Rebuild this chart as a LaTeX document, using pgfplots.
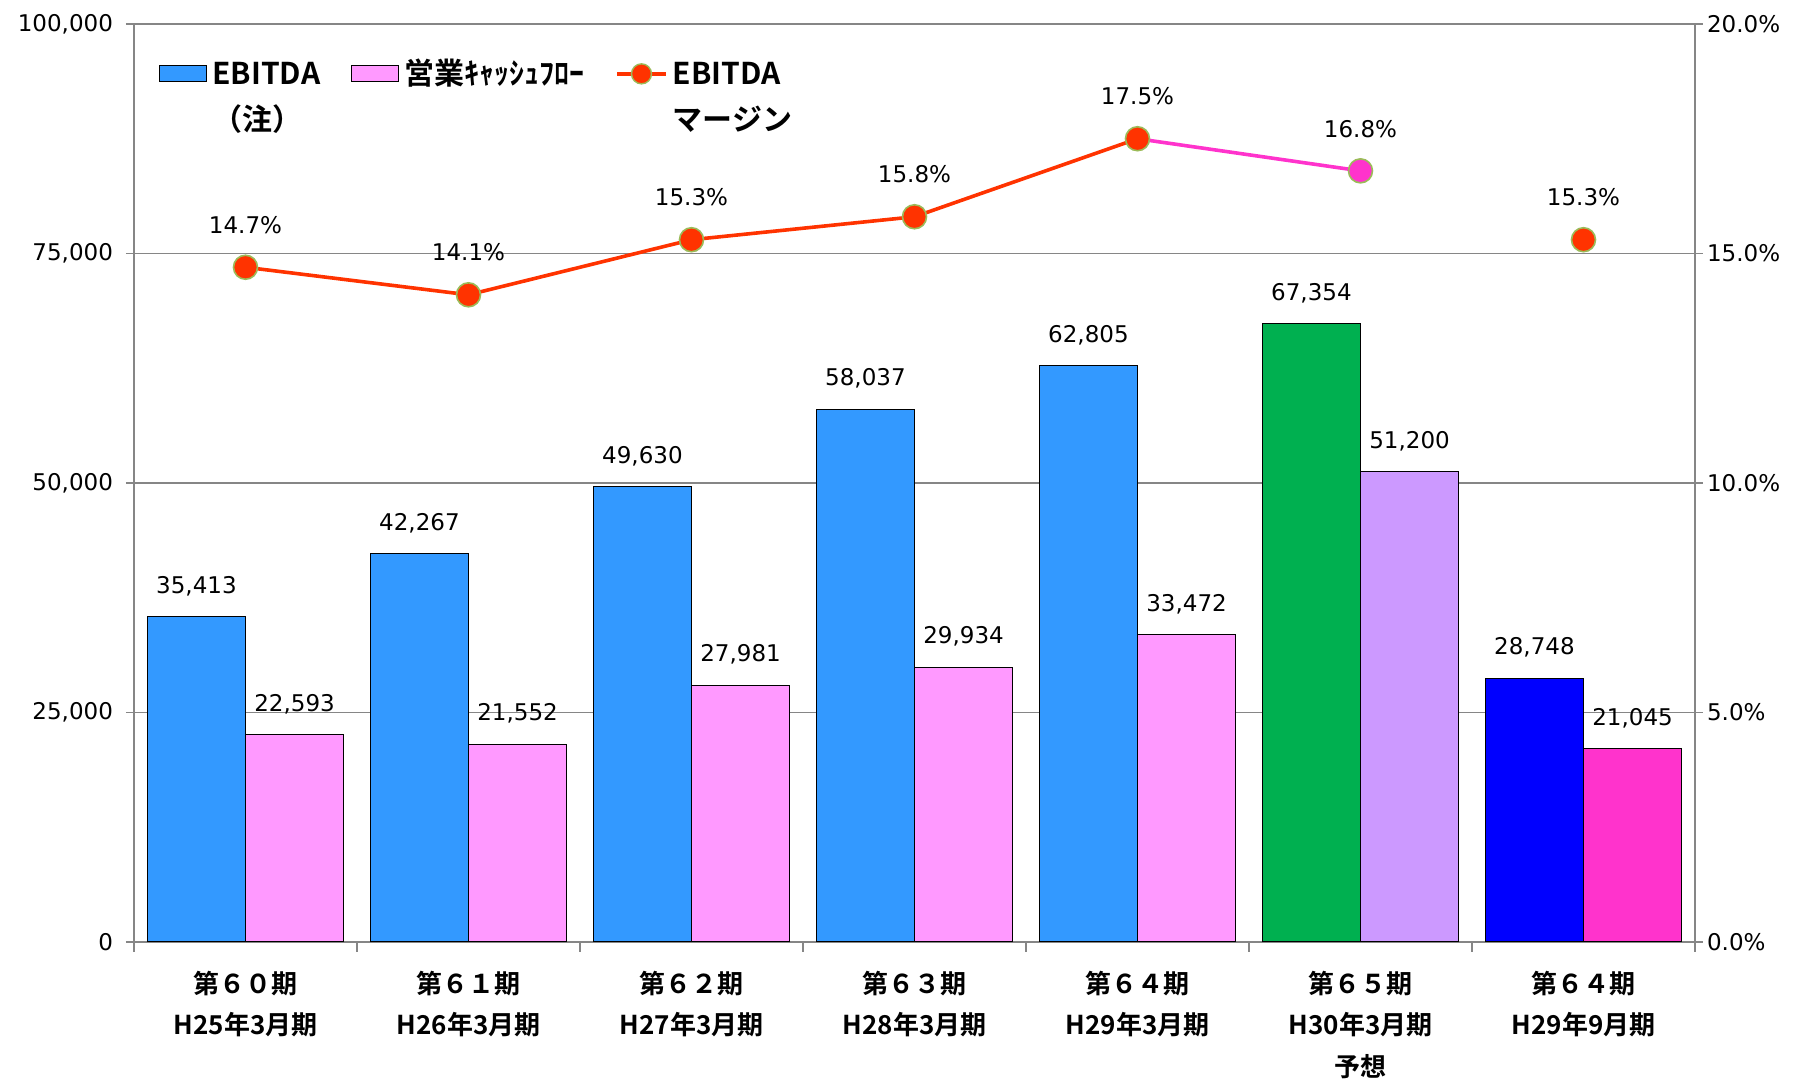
\documentclass[border=0pt]{standalone}
\usepackage{pgfplots}
\pgfplotsset{compat=1.18}
\usepackage{fontspec}
\setmainfont{DejaVu Sans}
\newfontfamily\jpfont{Noto Sans CJK JP Bold}
\definecolor{ebBlue}{HTML}{3399FF}
\definecolor{cfPink}{HTML}{FF99FF}
\definecolor{fcGreen}{HTML}{00B050}
\definecolor{fcLav}{HTML}{CC99FF}
\definecolor{hBlue}{HTML}{0000FF}
\definecolor{hMag}{HTML}{FF33CC}
\definecolor{lineRed}{HTML}{FF3300}
\definecolor{markEdge}{HTML}{9BBB59}
\definecolor{gridgray}{HTML}{868686}
\tikzset{numfont/.style={font=\fontsize{11.5}{13}\selectfont}}
\pgfplotsset{
  barlegend/.style={legend image code/.code={\draw[##1] (0pt,1.5pt) rectangle (23.5pt,9.5pt);}},
  linelegend/.style={legend image code/.code={\draw[mark repeat=2,mark phase=2,##1] plot coordinates {(0pt,5.5pt) (12.25pt,5.5pt) (24.5pt,5.5pt)};}},
  lefbar/.style={ybar, bar width=0.44, bar shift=-0.22, draw=black, line width=0.5pt,
    every node near coord/.append style={xshift=-24.53pt}},
  rigbar/.style={ybar, bar width=0.44, bar shift=0.22, draw=black, line width=0.5pt,
    every node near coord/.append style={xshift=24.53pt}},
}
\begin{document}
\begin{tikzpicture}
\useasboundingbox (-67pt,-68.5pt) rectangle (839pt,471pt);
\begin{axis}[
  scale only axis, width=780.5pt, height=459pt, at={(0pt,0pt)}, anchor=south west,
  xmin=-0.5, xmax=6.5, ymin=0, ymax=100000,
  axis x line*=bottom, axis y line*=left,
  axis line style={gridgray, line width=0.6pt},
  xtick={0,...,6},
  xticklabels={{第６０期\\H25年3月期},{第６１期\\H26年3月期},{第６２期\\H27年3月期},{第６３期\\H28年3月期},{第６４期\\H29年3月期},{第６５期\\H30年3月期\\予想},{第６４期\\H29年9月期}},
  minor xtick={-0.5,0.5,...,6.5},
  major x tick style={draw=none},
  minor x tick style={gridgray, line width=0.6pt},
  minor tick length=5pt,
  tick align=outside,
  major tick length=4pt,
  ytick={0,25000,50000,75000,100000},
  yticklabels={0,{25,000},{50,000},{75,000},{100,000}},
  ytick style={gridgray, line width=0.6pt},
  ymajorgrids, major grid style={gridgray, line width=0.6pt},
  yticklabel style={numfont, xshift=-3pt},
  xticklabel style={font=\jpfont\fontsize{13}{20.8}\selectfont, align=center, yshift=-7pt},
  nodes near coords, point meta=explicit symbolic,
  every node near coord/.append style={numfont, text=black, yshift=6.7pt},
]
\addplot[lefbar, fill=ebBlue] coordinates {
  (0,35413) [35,413]
  (1,42267) [42,267]
  (2,49630) [49,630]
  (3,58037) [58,037]
  (4,62805) [62,805]
};
\addplot[rigbar, fill=cfPink] coordinates {
  (0,22593) [22,593]
  (1,21552) [21,552]
  (2,27981) [27,981]
  (3,29934) [29,934]
  (4,33472) [33,472]
};
\addplot[lefbar, fill=fcGreen] coordinates {(5,67354) [67,354]};
\addplot[rigbar, fill=fcLav] coordinates {(5,51200) [51,200]};
\addplot[lefbar, fill=hBlue] coordinates {(6,28748) [28,748]};
\addplot[rigbar, fill=hMag] coordinates {(6,21045) [21,045]};
\end{axis}
\begin{axis}[
  scale only axis, width=780.5pt, height=459pt, at={(0pt,0pt)}, anchor=south west,
  xmin=-0.5, xmax=6.5, ymin=0, ymax=20,
  axis x line=none, axis y line*=right,
  axis line style={gridgray, line width=0.6pt},
  ytick={0,5,10,15,20},
  yticklabels={0.0\%,5.0\%,10.0\%,15.0\%,20.0\%},
  tick align=outside, major tick length=4pt,
  ytick style={gridgray, line width=0.6pt},
  yticklabel style={numfont, xshift=-1.5pt},
  legend columns=3,
  legend cell align=left,
  legend style={at={(0.016,0.962)}, anchor=north west, draw=none, fill=none, inner sep=0pt,
    cells={anchor=base west},
    nodes={inner xsep=2.5pt, inner ysep=0pt, font=\jpfont\fontsize{15}{23}\selectfont},
    /tikz/every even column/.append style={column sep=13pt}},
]
\addlegendimage{barlegend, fill=ebBlue, draw=black, line width=0.5pt}
\addlegendentry{\vtop{\hbox{EBITDA}\hbox{（注）}}}
\addlegendimage{barlegend, fill=cfPink, draw=black, line width=0.5pt}
\addlegendentry{営業ｷｬｯｼｭﾌﾛｰ}
\addlegendimage{linelegend, color=lineRed, line width=1.8pt, mark=*, mark size=5pt, mark options={fill=lineRed, draw=markEdge, line width=0.7pt}}
\addlegendentry{\vtop{\hbox{EBITDA}\hbox{マージン}}}
\addplot[forget plot, color=hMag, line width=1.8pt, no marks] coordinates {(4,17.5) (5,16.8)};
\addplot[forget plot, color=lineRed, line width=1.8pt, mark=*, mark size=6pt,
  mark options={fill=lineRed, draw=markEdge, line width=0.8pt},
  nodes near coords, point meta=explicit symbolic,
  every node near coord/.append style={numfont, text=black, yshift=13pt}] coordinates {
  (0,14.7) [14.7\%]
  (1,14.1) [14.1\%]
  (2,15.3) [15.3\%]
  (3,15.8) [15.8\%]
  (4,17.5) [17.5\%]
};
\addplot[forget plot, color=hMag, only marks, mark=*, mark size=6pt,
  mark options={fill=hMag, draw=markEdge, line width=0.8pt},
  nodes near coords, point meta=explicit symbolic,
  every node near coord/.append style={numfont, text=black, yshift=13pt}] coordinates {(5,16.8) [16.8\%]};
\addplot[forget plot, color=lineRed, only marks, mark=*, mark size=6pt,
  mark options={fill=lineRed, draw=markEdge, line width=0.8pt},
  nodes near coords, point meta=explicit symbolic,
  every node near coord/.append style={numfont, text=black, yshift=13pt}] coordinates {(6,15.3) [15.3\%]};
\end{axis}
\end{tikzpicture}
\end{document}
